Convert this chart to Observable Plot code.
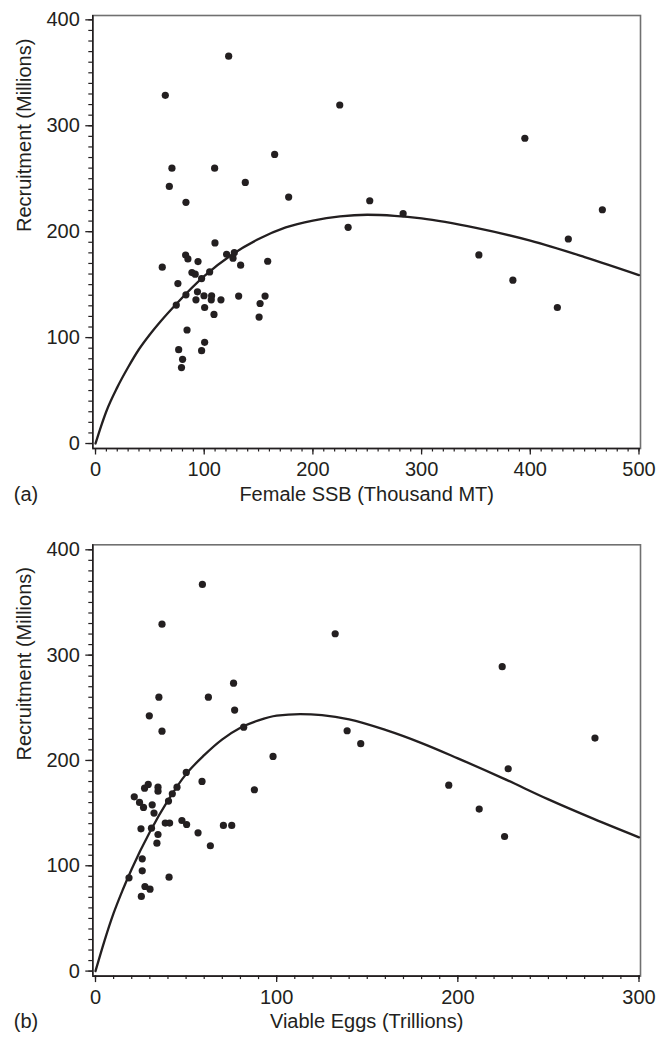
<!DOCTYPE html>
<html><head><meta charset="utf-8">
<script src="https://cdn.jsdelivr.net/npm/d3@7"></script>
<script src="https://cdn.jsdelivr.net/npm/@observablehq/plot@0.6"></script>
<style>
body{margin:0;background:#fff;}
#chart svg{display:block;}
</style></head><body><div id="chart"></div>
<script>
// Panel (a): Female SSB (thousand MT) vs recruitment (millions)
const ssb = [64.2,70.3,67.9,83.2,109.6,137.8,164.8,177.7,61.4,75.8,74.3,83.2,82.9,85,94.3,88.7,91.7,97.6,105,109.9,120.6,126.5,127.7,133.5,158.4,93.8,92.4,99.8,106.8,106.5,115.4,100.4,109,131.7,156,151.4,150.5,84.2,76.5,100.4,97.6,80.1,79.1,122.5,224.7,252.3,283,232.4,352.7,384,395,466.3,435,424.9];
const recruitA = [328.7,260,242.7,227.7,260,246.5,272.9,232.7,166.5,151,130.7,140.4,178,174.3,171.8,161.4,159.9,155.7,162,189.4,178.7,175,180.2,168.4,172.1,143.2,135.7,139.5,139.5,135.7,135.7,128.4,121.9,139.2,139.2,132.2,119.4,107.2,88.6,95.5,87.7,79.5,71.7,365.7,319.6,229.2,217,204.1,178.1,154.2,288.2,220.7,193.1,128.4];
const fitSsb = [0,5,10,20,30,40,50,60,75,100,125,150,175,200,225,250,275,300,350,400,450,500];
const fitRecruitA = [0,16,30.5,53,72,89,103,115.5,132.5,158,178,193,204,210.5,214.5,216,215,212.5,203.5,191.5,176,159];

// Panel (b): Viable eggs (trillions) vs recruitment (millions)
const eggs = [35,29.7,36.7,62.3,76.2,76.8,81.8,98,87.7,58.8,50.1,45,42.4,40.3,34.5,34.5,29.1,27.1,21.4,24.3,26.5,31.3,32.3,25.1,30.9,38.5,40.9,47.7,50.3,56.6,63.4,70.6,75.2,34.5,33.9,25.8,25.8,18.5,40.6,27.3,30.1,25.3,59,36.7,132.3,224.5,275.7,138.9,146.4,227.8,195,211.8,225.8];
const recruitB = [260.1,242.4,227.8,260.1,273.4,247.8,231.6,203.8,172.2,180.1,188.6,174.6,168.4,161.4,174.6,170.8,177.2,173.7,165.5,160.1,155.4,157.9,150,135.1,135.7,140.5,140.5,143,139.2,131.3,119,138.3,138.3,129.7,121.5,106.6,95.2,88.6,89.2,80.3,77.8,70.9,367.1,329.4,320.3,289,221.2,228.2,215.9,192.1,176.5,153.8,127.8];
const fitEggs = [0,5,10,15,20,30,40,50,60,70,80,90,100,113,125,140,160,180,200,225,250,275,300];
const fitRecruitB = [0,29,55,77,97,132,162,187,205,220,231,238,242.5,244,243,239,229,216.5,202,183,163,144.5,127];

// Tick values and labels
const ssbTicks = [0,100,200,300,400,500];
const eggTicks = [0,100,200,300];
const recruitTicks = [0,100,200,300,400];
const yLabel = "Recruitment (Millions)";
const xLabelA = "Female SSB (Thousand MT)";
const xLabelB = "Viable Eggs (Trillions)";
const tagA = "(a)";
const tagB = "(b)";

const ink = "#231f20";
const font = "'Liberation Sans', Arial, Helvetica, sans-serif";

function panel({xs, ys, cx, cy, xDomain, yDomain, xTicks, xMax, xLabel, tag, height, marginTop, marginBottom}) {
  const pts = xs.map((x, i) => ({x, y: ys[i]}));
  const crv = cx.map((x, i) => ({x, y: cy[i]}));
  const xMinor = d3.range(0, xMax + 1, 10);
  const yMinor = d3.range(0, 401, 10);
  return Plot.plot({
    width: 657, height, marginLeft: 92.3, marginRight: 17, marginTop, marginBottom,
    style: {fontFamily: font, fontSize: "20px", color: ink, background: "#fff", overflow: "visible"},
    x: {domain: xDomain},
    y: {domain: yDomain},
    marks: [
      Plot.frame({stroke: "#707070", strokeWidth: 1.6}),
      Plot.ruleX([xDomain[0]], {stroke: ink, strokeWidth: 1.6}),
      Plot.ruleY([yDomain[0]], {stroke: ink, strokeWidth: 1.6}),
      Plot.axisX({ticks: xMinor, tickSize: 3.5, tickFormat: () => "", label: null, strokeWidth: 1.2}),
      Plot.axisX({ticks: xTicks, tickSize: 6.5, tickPadding: 7, label: null, strokeWidth: 1.3, fontSize: 20}),
      Plot.axisY({ticks: yMinor, tickSize: 4, tickFormat: () => "", label: null, strokeWidth: 1.2}),
      Plot.axisY({ticks: recruitTicks, tickSize: 7, tickPadding: 6, label: null, strokeWidth: 1.3, fontSize: 20}),
      Plot.line(crv, {x: "x", y: "y", curve: "monotone-x", stroke: ink, strokeWidth: 2.3}),
      Plot.dot(pts, {x: "x", y: "y", r: 3.6, fill: ink, stroke: "none"}),
      Plot.text([xLabel], {text: d => d, frameAnchor: "bottom", dy: 52, fontSize: 20, fill: ink}),
      Plot.text([tag], {text: d => d, frameAnchor: "bottom-left", dx: -79, dy: 52, textAnchor: "start", fontSize: 20, fill: ink}),
      Plot.text([yLabel], {text: d => d, frameAnchor: "left", rotate: -90, dx: -68, fontSize: 20, fill: ink})
    ]
  });
}

const root = document.getElementById("chart");
root.appendChild(panel({
  xs: ssb, ys: recruitA, cx: fitSsb, cy: fitRecruitA,
  xDomain: [-2.5, 501.4], yDomain: [-4.7, 404.1], xTicks: ssbTicks, xMax: 500,
  xLabel: xLabelA, tag: tagA, height: 520, marginTop: 15, marginBottom: 72
}));
root.appendChild(panel({
  xs: eggs, ys: recruitB, cx: fitEggs, cy: fitRecruitB,
  xDomain: [-1.49, 300.83], yDomain: [-4.75, 404.75], xTicks: eggTicks, xMax: 300,
  xLabel: xLabelB, tag: tagB, height: 518, marginTop: 24.3, marginBottom: 62.4
}));
</script></body></html>
